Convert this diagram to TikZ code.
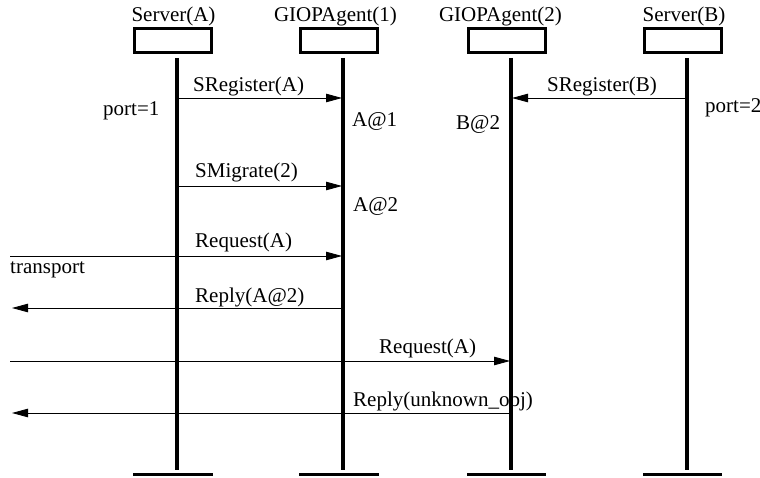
\documentclass[tikz,border=0pt]{standalone}
\usepackage{fontspec}
\setmainfont{Liberation Serif}
\usetikzlibrary{arrows.meta}
\tikzstyle{objbox}=[draw=black, line width=3pt, minimum width=77pt, minimum height=24pt, inner sep=0pt]
\tikzstyle{head}=[inner sep=0pt, anchor=base, font=\fontsize{21}{25}\selectfont]
\tikzstyle{txt}=[inner sep=0pt, anchor=base west, font=\fontsize{21}{25}\selectfont]
\tikzstyle{lifeline}=[draw=black, line width=3.2pt]
\tikzstyle{msg}=[draw=black, line width=0.8pt, -{Triangle[length=16pt,width=8.5pt]}]

\begin{document}
\begin{tikzpicture}[x=1pt,y=-1pt]
		   \useasboundingbox (0,0) rectangle (760,478);
		   \begin{scope}
			   \node (sa) at (173,40.5)[objbox] {};
			   \node (ga) at (338.5,40.5)[objbox] {};
			   \node (gb) at (506.5,40.5)[objbox] {};
			   \node (sb) at (682.5,40.5)[objbox] {};

			   \node (sa-name) at (173.5,22)[head] {Server(A)};
			   \node (ga-name) at (335.5,22)[head] {GIOPAgent(1)};
			   \node (gb-name) at (500.5,22)[head] {GIOPAgent(2)};
			   \node (sb-name) at (684,22)[head] {Server(B)};

			   \node (port1) at (103,116)[txt] {port=1};
			   \node (port2) at (705,113)[txt] {port=2};
			   \node (a1) at (352,127)[txt] {A@1};
			   \node (b2) at (456,130)[txt] {B@2};
			   \node (a2) at (353,212)[txt] {A@2};
			   \node (trans) at (10,273)[txt] {transport};

			   \node (l1) at (193,92)[txt] {SRegister(A)};
			   \node (l2) at (547,92)[txt] {SRegister(B)};
			   \node (l3) at (195,178)[txt] {SMigrate(2)};
			   \node (l4) at (195,248)[txt] {Request(A)};
			   \node (l5) at (195,302)[txt] {Reply(A@2)};
			   \node (l6) at (379,353)[txt] {Request(A)};
			   \node (l7) at (353,406)[txt] {Reply(unknown\_obj)};

			   % message end points
			   \coordinate (m1a) at (177,98);
			   \coordinate (m1b) at (342,98);
			   \coordinate (m2a) at (687,98);
			   \coordinate (m2b) at (512,98);
			   \coordinate (m3a) at (177,186);
			   \coordinate (m3b) at (342,186);
			   \coordinate (m4a) at (10,256);
			   \coordinate (m4b) at (342,256);
			   \coordinate (m5a) at (343,308);
			   \coordinate (m5b) at (12,308);
			   \coordinate (m6a) at (10,361);
			   \coordinate (m6b) at (510,361);
			   \coordinate (m7a) at (511,413);
			   \coordinate (m7b) at (12,413);

			   % lifelines and end bars
			   \coordinate (sa-top) at (177,58);
			   \coordinate (sa-bot) at (177,470);
			   \coordinate (sa-bl) at (133,474.3);
			   \coordinate (sa-br) at (213,474.3);
			   \coordinate (ga-top) at (343,58);
			   \coordinate (ga-bot) at (343,470);
			   \coordinate (ga-bl) at (299,474.3);
			   \coordinate (ga-br) at (379,474.3);
			   \coordinate (gb-top) at (511,58);
			   \coordinate (gb-bot) at (511,470);
			   \coordinate (gb-bl) at (467,474.3);
			   \coordinate (gb-br) at (546,474.3);
			   \coordinate (sb-top) at (687,58);
			   \coordinate (sb-bot) at (687,470);
			   \coordinate (sb-bl) at (643,474.3);
			   \coordinate (sb-br) at (722,474.3);
		   \end{scope}
		   \begin{scope}
			   \path (m1a) edge[msg] (m1b);
			   \path (m2a) edge[msg] (m2b);
			   \path (m3a) edge[msg] (m3b);
			   \path (m4a) edge[msg] (m4b);
			   \path (m5a) edge[msg] (m5b);
			   \path (m6a) edge[msg] (m6b);
			   \path (m7a) edge[msg] (m7b);

			   \path (sa-top) edge[lifeline] (sa-bot);
			   \path (ga-top) edge[lifeline] (ga-bot);
			   \path (gb-top) edge[lifeline] (gb-bot);
			   \path (sb-top) edge[lifeline] (sb-bot);

			   \path (sa-bl) edge[lifeline] (sa-br);
			   \path (ga-bl) edge[lifeline] (ga-br);
			   \path (gb-bl) edge[lifeline] (gb-br);
			   \path (sb-bl) edge[lifeline] (sb-br);
		   \end{scope}
	   \end{tikzpicture}
\end{document}
